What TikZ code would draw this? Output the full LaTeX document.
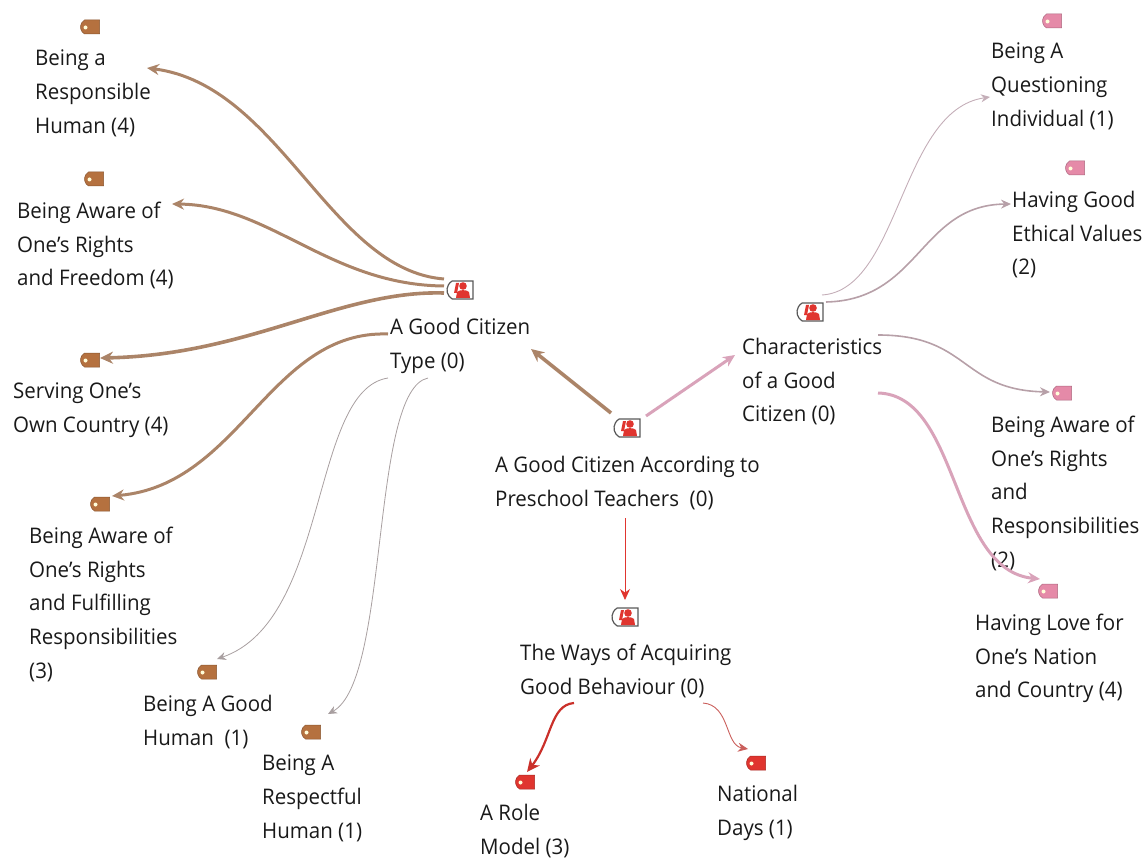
\documentclass[tikz,border=0pt]{standalone}
\usepackage{fontspec}
\setmainfont[FakeStretch=0.953]{Open Sans}
\usetikzlibrary{arrows.meta,shapes.misc}
\definecolor{brn}{HTML}{AB8468}
\definecolor{brnf}{HTML}{B5713F}
\definecolor{pnk}{HTML}{D9A3BA}
\definecolor{pnkf}{HTML}{E58AA8}
\definecolor{rd}{HTML}{E0352F}
\definecolor{gry}{HTML}{A89FA0}
\definecolor{gryp}{HTML}{C4AEB8}
\tikzset{
 lbl/.style={anchor=north west,align=left,inner sep=0pt,font=\fontsize{21.5}{33.6}\selectfont,text=black!90},
 tagicon/.style={rounded rectangle,rounded rectangle east arc=none,rounded rectangle arc length=120,minimum width=19pt,minimum height=14pt,inner sep=0pt,fill=#1,draw=#1!75!black,line width=.5pt},
 perso/.style={rounded rectangle,rounded rectangle east arc=none,rounded rectangle arc length=120,minimum width=26pt,minimum height=18pt,inner sep=0pt,fill=white,draw=black!65,line width=1.2pt},
 con/.style={-{Stealth[length=#1*1pt+8pt,width=#1*1pt+7pt]}},
 thick brn/.style={con=5,draw=brn,line width=3.6pt},
 med brn/.style={con=4,draw=brn,line width=3pt},
 thin gry/.style={con=1,draw=gry,line width=.8pt},
 thin gryp/.style={con=1,draw=gryp,line width=.9pt},
 thick pnk/.style={con=4,draw=pnk,line width=3pt},
 mid gry/.style={con=2,draw=gry!70!pnk,line width=1.6pt},
}
\newcommand{\tagn}[4]{\node[tagicon=#4] (#1) at (#2,#3) {};\fill[white!85!yellow] (#2-4.5,#3+.5) circle (2pt);}
\newcommand{\pern}[3]{\node[perso] (#1) at (#2,#3) {};
 \fill[rd] (#2+3,#3-4) circle (3.8pt);
 \fill[rd] (#2-4,#3+8) -- (#2-3,#3+2) .. controls (#2-1,#3-.5) and (#2+7,#3-.5) .. (#2+9,#3+2) -- (#2+10,#3+8) -- cycle;
 \fill[rd] (#2-6,#3+3) -- (#2-4,#3-7) -- (#2-1,#3-7) -- (#2-3,#3+3) -- cycle;}
\begin{document}
\begin{tikzpicture}[x=1pt,y=-1pt]
\useasboundingbox (0,0) rectangle (1142,858);
% icons
\tagn{t1}{90}{27}{brnf}
\tagn{t2}{94}{179}{brnf}
\tagn{t3}{90}{360}{brnf}
\tagn{t4}{100}{504}{brnf}
\tagn{t5}{207}{672}{brnf}
\tagn{t6}{311}{732}{brnf}
\tagn{p1}{1052}{21}{pnkf}
\tagn{p2}{1075}{168}{pnkf}
\tagn{p3}{1062}{393}{pnkf}
\tagn{p4}{1048}{591}{pnkf}
\tagn{r1}{525}{782}{rd}
\tagn{r2}{756}{763}{rd}
\pern{cA}{460}{290}
\pern{c0}{627}{428}
\pern{cB}{810}{312}
\pern{cC}{625}{617}
% labels
\node[lbl] (l1) at (35,50) {Being a\\Responsible\\Human (4)};
\node[lbl] (l2) at (17,202) {Being Aware of\\One’s Rights\\and Freedom (4)};
\node[lbl] (l3) at (13,383) {Serving One’s\\Own Country (4)};
\node[lbl] (l4) at (29,527) {Being Aware of\\One’s Rights\\and Fulfilling\\Responsibilities\\(3)};
\node[lbl] (l5) at (143,695) {Being A Good\\Human\ \ (1)};
\node[lbl] (l6) at (262,755) {Being A\\Respectful\\Human (1)};
\node[lbl] (lA) at (390,318) {A Good Citizen\\Type (0)};
\node[lbl] (l0) at (495,456) {A Good Citizen According to\\Preschool Teachers\ \ (0)};
\node[lbl] (lB) at (742,338) {Characteristics\\of a Good\\Citizen (0)};
\node[lbl] (lC) at (520,644) {The Ways of Acquiring\\Good Behaviour (0)};
\node[lbl] (l7) at (480,804) {A Role\\Model (3)};
\node[lbl] (l8) at (717,785) {National\\Days (1)};
\node[lbl] (l9) at (991,43) {Being A\\Questioning\\Individual (1)};
\node[lbl] (l10) at (1012,191) {Having Good\\Ethical Values\\(2)};
\node[lbl] (l11) at (991,416) {Being Aware of\\One’s Rights\\and\\Responsibilities\\(2)};
\node[lbl] (l12) at (975,614) {Having Love for\\One’s Nation\\and Country (4)};
% connector ends
\coordinate (a1) at (444,279); \coordinate (e1) at (147,68);
\coordinate (a2) at (444,286); \coordinate (e2) at (172,204);
\coordinate (a3) at (444,293); \coordinate (e3) at (100,358);
\coordinate (a4) at (388,334); \coordinate (e4) at (112,496);
\coordinate (a5) at (388,378); \coordinate (e5) at (217,659);
\coordinate (a6) at (428,378); \coordinate (e6) at (328,714);
\coordinate (b1) at (611,413); \coordinate (e7) at (531,349);
\coordinate (b2) at (646,416); \coordinate (e8) at (735,355);
\coordinate (b3) at (625,518); \coordinate (e9) at (625,600);
\coordinate (c1) at (574,703); \coordinate (e10) at (527,772);
\coordinate (c2) at (703,703); \coordinate (e11) at (748,749);
\coordinate (d1) at (822,295); \coordinate (e12) at (990,97);
\coordinate (d2) at (826,302); \coordinate (e13) at (1011,204);
\coordinate (d3) at (878,335); \coordinate (e14) at (1050,392);
\coordinate (d4) at (878,393); \coordinate (e15) at (1040,579);
% connectors
\draw[med brn] (a1) .. controls (330,270) and (280,85) .. (e1);
\draw[med brn] (a2) .. controls (330,285) and (270,205) .. (e2);
\draw[thick brn] (a3) .. controls (340,290) and (250,355) .. (e3);
\draw[med brn] (a4) .. controls (270,330) and (240,485) .. (e4);
\draw[thin gry] (a5) .. controls (310,390) and (330,620) .. (e5);
\draw[thin gry] (a6) .. controls (370,390) and (390,680) .. (e6);
\draw[thick brn] (b1) -- (e7);
\draw[thick pnk] (b2) -- (e8);
\draw[con=3,draw=rd,line width=.9pt] (b3) -- (e9);
\draw[con=5,draw=rd!90!black,line width=2.2pt] (c1) .. controls (550,705) and (552,740) .. (e10);
\draw[con=2,draw=rd!60!gry,line width=.9pt] (c2) .. controls (730,705) and (725,745) .. (e11);
\draw[thin gryp] (d1) .. controls (900,290) and (900,110) .. (e12);
\draw[mid gry] (d2) .. controls (920,300) and (920,205) .. (e13);
\draw[mid gry] (d3) .. controls (970,335) and (960,390) .. (e14);
\draw[thick pnk] (d4) .. controls (960,395) and (950,570) .. (e15);
\end{tikzpicture}
\end{document}
